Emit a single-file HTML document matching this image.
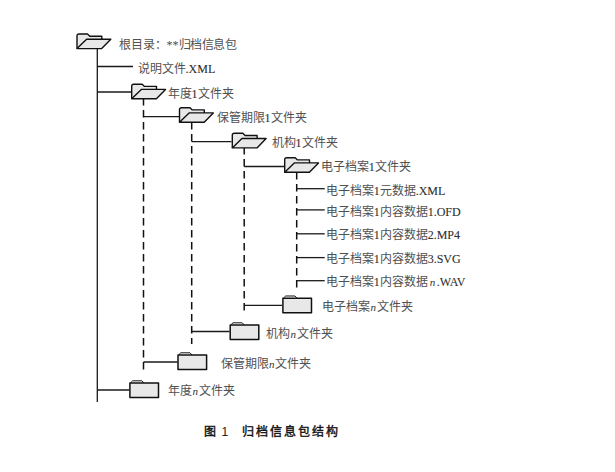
<!DOCTYPE html>
<html lang="zh-CN"><head><meta charset="utf-8">
<style>
html,body{margin:0;padding:0;background:#fff;}
body{width:615px;height:472px;position:relative;overflow:hidden;}
svg{position:absolute;left:0;top:0;}
.t{position:absolute;font-family:"Liberation Serif",serif;font-size:12px;line-height:14px;color:#505050;white-space:nowrap;}
.t i{font-style:italic;font-size:11px;margin:0 0.5px;color:#333;}
.l{font-weight:normal;color:#2e2e2e;-webkit-text-stroke:0.1px #2e2e2e;}
.cap{position:absolute;font-family:"Liberation Sans",sans-serif;font-size:12px;font-weight:normal;line-height:14px;color:#111;-webkit-text-stroke:0.4px #111;white-space:nowrap;}
</style></head><body>
<svg width="615" height="472" viewBox="0 0 615 472">
<defs>
<g id="of">
<path d="M0,14.6 V2 Q0,0 2,0 H10.5 L12.8,2.2 H24.8 V5.2" fill="#e8e8e8" stroke="#111" stroke-width="1.4" stroke-linejoin="round"/>
<path d="M0,14.6 L9.6,5.2 H33.8 L24.7,14.6 Z" fill="#e8e8e8" stroke="#111" stroke-width="1.4" stroke-linejoin="round"/>
</g>
<g id="cf">
<path d="M0.5,2.4 L2.8,0.2 H12 L14.2,2.4" fill="#fcfcfc" stroke="#111" stroke-width="1.0" stroke-linejoin="round"/>
<rect x="0" y="2.4" width="28.6" height="14.6" fill="#e8e8e8" stroke="#111" stroke-width="1.5" stroke-linejoin="round"/>
</g>
</defs>
<g stroke="#1a1a1a" stroke-width="1.3" fill="none">
<!-- main solid -->
<line x1="97.3" y1="47" x2="97.3" y2="402"/>
<line x1="97.3" y1="66.5" x2="133" y2="66.5"/>
<line x1="97.3" y1="92" x2="131" y2="92"/>
<line x1="97.3" y1="390" x2="129.5" y2="390"/>
</g>
<g stroke="#111" stroke-width="1.5" fill="none" stroke-dasharray="7.6 4.4">
<line x1="143.5" y1="98" x2="143.5" y2="370"/>
<line x1="191.7" y1="122" x2="191.7" y2="344"/>
<line x1="244.2" y1="147" x2="244.2" y2="311"/>
<line x1="296.7" y1="172" x2="296.7" y2="288"/>
</g>
<g stroke="#1a1a1a" stroke-width="1.3" fill="none">
<line x1="143.5" y1="116.6" x2="179" y2="116.6"/>
<line x1="143.5" y1="362" x2="177.5" y2="362"/>
<line x1="191.7" y1="141.6" x2="231.5" y2="141.6"/>
<line x1="191.7" y1="331.5" x2="229.5" y2="331.5"/>
<line x1="244.2" y1="166.5" x2="284" y2="166.5"/>
<line x1="244.2" y1="305.4" x2="282" y2="305.4"/>
<line x1="296.7" y1="188.7" x2="324.7" y2="188.7"/>
<line x1="296.7" y1="209.9" x2="324.7" y2="209.9"/>
<line x1="296.7" y1="233.8" x2="324.7" y2="233.8"/>
<line x1="296.7" y1="257.6" x2="324.7" y2="257.6"/>
<line x1="296.7" y1="280.7" x2="324.7" y2="280.7"/>
</g>
<use href="#of" x="77" y="34"/>
<use href="#of" x="131.7" y="84.2"/>
<use href="#of" x="179.5" y="107.7"/>
<use href="#of" x="232.3" y="133.3"/>
<use href="#of" x="284.7" y="157.7"/>
<use href="#cf" x="282.9" y="295.8"/>
<use href="#cf" x="230.2" y="322.6"/>
<use href="#cf" x="178" y="352.6"/>
<use href="#cf" x="129.9" y="380.6"/>
</svg>
<div class="t" style="left:118.6px;top:37.7px">根目录：**<span style="letter-spacing:-0.4px">归档信息包</span></div>
<div class="t" style="left:137.6px;top:61.7px">说明文件<b class="l">.XML</b></div>
<div class="t" style="left:167.6px;top:86.7px">年度<b class="l">1</b>文件夹</div>
<div class="t" style="left:216.6px;top:110.7px">保管期限<b class="l">1</b>文件夹</div>
<div class="t" style="left:271.6px;top:135.7px">机构<b class="l">1</b>文件夹</div>
<div class="t" style="left:320.7px;top:160.2px">电子档案<b class="l">1</b>文件夹</div>
<div class="t" style="left:325.7px;top:183.7px">电子档案<b class="l">1</b>元数据<b class="l">.XML</b></div>
<div class="t" style="left:325.7px;top:204.7px">电子档案<b class="l">1</b>内容数据<b class="l">1.OFD</b></div>
<div class="t" style="left:325.7px;top:228.2px">电子档案<b class="l">1</b>内容数据<b class="l">2.MP4</b></div>
<div class="t" style="left:325.7px;top:252.2px">电子档案<b class="l">1</b>内容数据<b class="l">3.SVG</b></div>
<div class="t" style="left:325.7px;top:275.2px">电子档案<b class="l">1</b>内容数据<i style="margin:0 1.5px 0 2px">n</i><b class="l">.WAV</b></div>
<div class="t" style="left:322.1px;top:300.1px">电子档案<i>n</i>文件夹</div>
<div class="t" style="left:266.1px;top:327.1px">机构<i>n</i>文件夹</div>
<div class="t" style="left:220.6px;top:357.1px">保管期限<i>n</i>文件夹</div>
<div class="t" style="left:168.1px;top:384.1px">年度<i>n</i>文件夹</div>
<div class="cap" style="left:204.1px;top:425.2px">图</div>
<div class="cap" style="left:221.6px;top:425.2px;-webkit-text-stroke:0;color:#222">1</div>
<div class="cap" style="left:242.4px;top:425.2px;letter-spacing:1.95px">归档信息包结构</div>
</body></html>
